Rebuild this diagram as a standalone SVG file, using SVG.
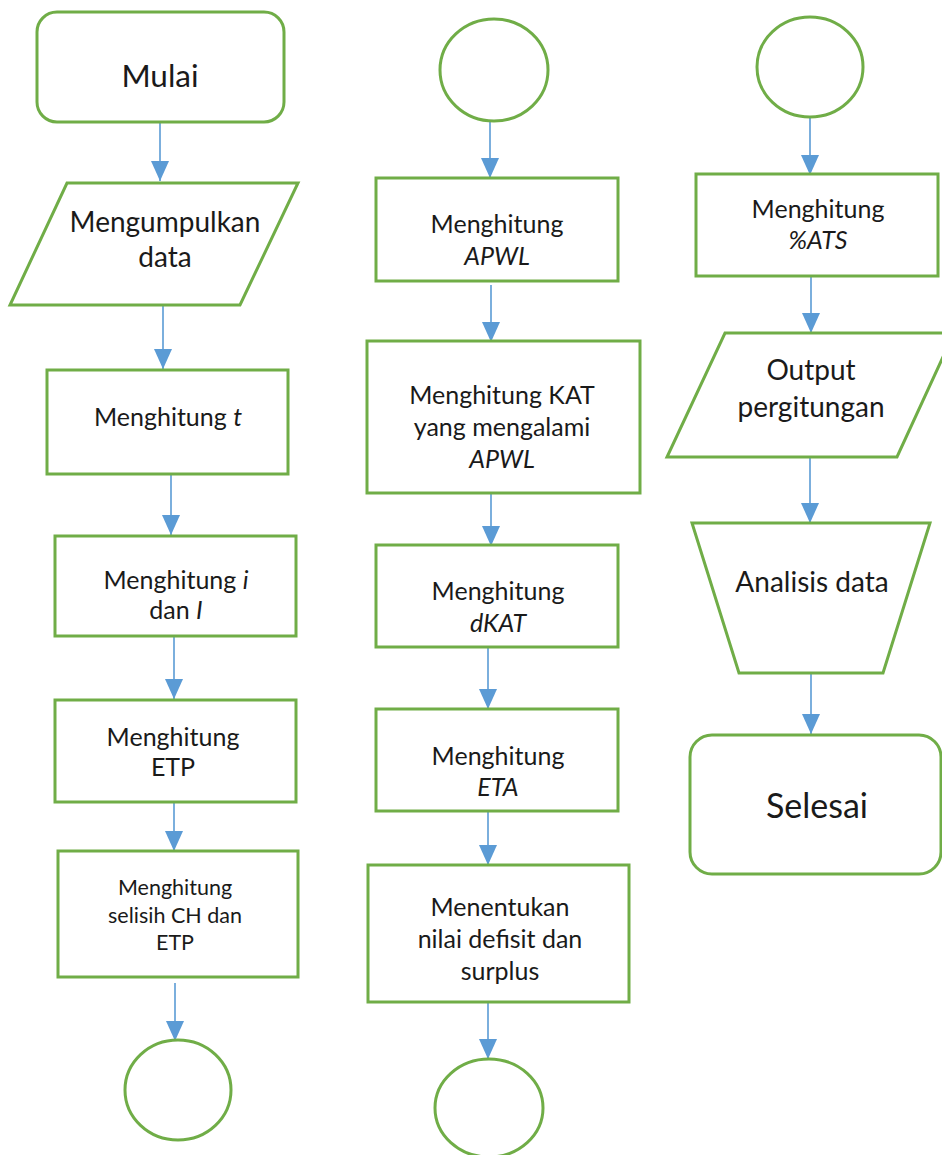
<svg xmlns="http://www.w3.org/2000/svg" width="942" height="1155" viewBox="0 0 942 1155">
<style>
.n{fill:#fff;stroke:#70AD47;stroke-width:3}
.c{stroke:#5B9BD5;stroke-width:1.6;fill:none}
text{font-family:Lato,"Liberation Sans",sans-serif;fill:#1a1a1a;text-anchor:middle}
.f26{font-size:25px}
.f28{font-size:28px}
.f22{font-size:21.5px}
.it{font-style:italic}
</style>
<defs>
<marker id="ah" markerUnits="userSpaceOnUse" markerWidth="20" markerHeight="18" refX="20" refY="9" orient="auto">
<path d="M0,0 L20,9 L0,18 Z" fill="#5B9BD5"/>
</marker>
</defs>
<rect width="942" height="1155" fill="#fff"/>
<g id="connectors">
<line class="c" x1="160" y1="122" x2="160" y2="181" marker-end="url(#ah)"/>
<line class="c" x1="163" y1="305" x2="163" y2="369" marker-end="url(#ah)"/>
<line class="c" x1="171" y1="474" x2="171" y2="535" marker-end="url(#ah)"/>
<line class="c" x1="174" y1="636" x2="174" y2="699" marker-end="url(#ah)"/>
<line class="c" x1="174" y1="795" x2="174" y2="851" marker-end="url(#ah)"/>
<line class="c" x1="175" y1="983" x2="175" y2="1041" marker-end="url(#ah)"/>
<line class="c" x1="490" y1="121" x2="490" y2="178" marker-end="url(#ah)"/>
<line class="c" x1="491" y1="285" x2="491" y2="342" marker-end="url(#ah)"/>
<line class="c" x1="491" y1="493" x2="491" y2="546" marker-end="url(#ah)"/>
<line class="c" x1="488" y1="647" x2="488" y2="709" marker-end="url(#ah)"/>
<line class="c" x1="488" y1="808" x2="488" y2="865" marker-end="url(#ah)"/>
<line class="c" x1="488" y1="1002" x2="488" y2="1059" marker-end="url(#ah)"/>
<line class="c" x1="810" y1="117" x2="810" y2="175" marker-end="url(#ah)"/>
<line class="c" x1="811" y1="276" x2="811" y2="333" marker-end="url(#ah)"/>
<line class="c" x1="810" y1="457" x2="810" y2="523" marker-end="url(#ah)"/>
<line class="c" x1="811" y1="673" x2="811" y2="734" marker-end="url(#ah)"/>
</g>
<g id="mulai">
<rect class="n" x="37" y="12" width="247" height="110" rx="20"/>
<text x="160" y="87" style="font-size:31.5px">Mulai</text>
</g>
<g id="mengumpulkan">
<polygon class="n" points="67,183 298,183 240,305 10,305"/>
<text class="f28" x="165" y="232">Mengumpulkan</text>
<text class="f28" x="165" y="267">data</text>
</g>
<g id="hitung-t">
<rect class="n" x="47" y="370" width="241" height="104"/>
<text class="f26" x="168" y="426">Menghitung <tspan class="it">t</tspan></text>
</g>
<g id="hitung-i">
<rect class="n" x="55" y="536" width="241" height="100"/>
<text class="f26" x="176" y="589">Menghitung <tspan class="it">i</tspan></text>
<text class="f26" x="176" y="619">dan <tspan class="it">I</tspan></text>
</g>
<g id="hitung-etp">
<rect class="n" x="55" y="700" width="241" height="102"/>
<text class="f26" x="173" y="746">Menghitung</text>
<text class="f26" x="173" y="776">ETP</text>
</g>
<g id="selisih">
<rect class="n" x="58" y="851" width="240" height="126"/>
<text class="f22" x="175" y="895">Menghitung</text>
<text class="f22" x="175" y="923">selisih CH dan</text>
<text class="f22" x="175" y="950">ETP</text>
</g>
<g id="konektor-a1">
<ellipse class="n" cx="178" cy="1090" rx="53" ry="50"/>
</g>
<g id="konektor-a2">
<ellipse class="n" cx="494" cy="70" rx="54" ry="51"/>
</g>
<g id="hitung-apwl">
<rect class="n" x="376" y="178" width="242" height="103"/>
<text class="f26" x="497" y="233">Menghitung</text>
<text class="f26 it" x="497" y="265">APWL</text>
</g>
<g id="hitung-kat">
<rect class="n" x="367" y="341" width="273" height="152"/>
<text class="f26" x="502" y="404">Menghitung KAT</text>
<text class="f26" x="502" y="436">yang mengalami</text>
<text class="f26 it" x="502" y="468">APWL</text>
</g>
<g id="hitung-dkat">
<rect class="n" x="376" y="545" width="242" height="102"/>
<text class="f26" x="498" y="600">Menghitung</text>
<text class="f26 it" x="498" y="632">dKAT</text>
</g>
<g id="hitung-eta">
<rect class="n" x="376" y="709" width="242" height="102"/>
<text class="f26" x="498" y="765">Menghitung</text>
<text class="f26 it" x="498" y="796">ETA</text>
</g>
<g id="defisit-surplus">
<rect class="n" x="368" y="865" width="261" height="137"/>
<text class="f26" x="500" y="916">Menentukan</text>
<text class="f26" x="500" y="948">nilai defisit dan</text>
<text class="f26" x="500" y="980">surplus</text>
</g>
<g id="konektor-b1">
<ellipse class="n" cx="489" cy="1108" rx="54" ry="49"/>
</g>
<g id="konektor-b2">
<ellipse class="n" cx="810" cy="67" rx="53" ry="50"/>
</g>
<g id="hitung-ats">
<rect class="n" x="696" y="174" width="242" height="102"/>
<text class="f26" x="818" y="218">Menghitung</text>
<text class="f26 it" x="818" y="249">%ATS</text>
</g>
<g id="output">
<polygon class="n" points="725,333 954,333 897,457 667,457"/>
<text class="f28" x="811" y="380">Output</text>
<text class="f28" x="811" y="417">pergitungan</text>
</g>
<g id="analisis">
<polygon class="n" points="692,523 930,523 883,673 739,673"/>
<text class="f28" x="812" y="592">Analisis data</text>
</g>
<g id="selesai">
<rect class="n" x="690" y="735" width="251" height="139" rx="22"/>
<text x="817" y="818" style="font-size:34px">Selesai</text>
</g>
</svg>
